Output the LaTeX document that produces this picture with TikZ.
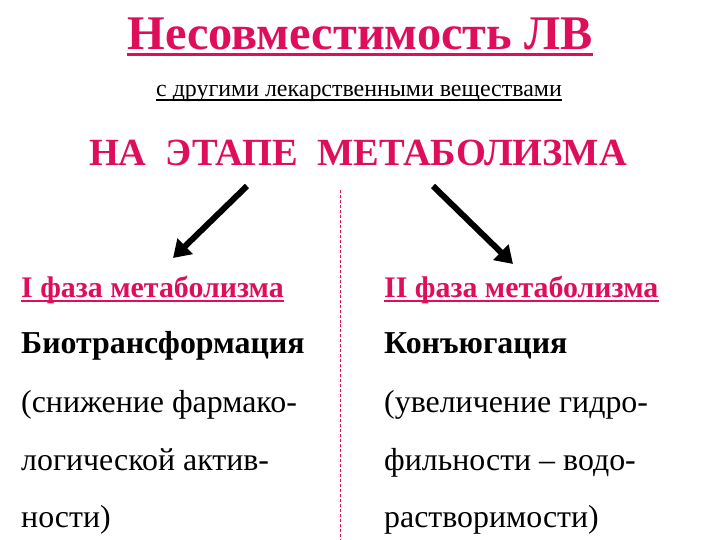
\documentclass[tikz,border=0pt]{standalone}
\usepackage{fontspec}
\setmainfont{Liberation Serif}
\usetikzlibrary{arrows.meta}
\definecolor{crimson}{RGB}{222,14,92}

\begin{document}
\begin{tikzpicture}[x=1bp,y=-1bp,>={Triangle[length=17bp,width=21bp]},
  txt/.style={inner sep=0pt,anchor=base west,font=\fontsize{32}{32}\selectfont},
  bold/.style={txt,font=\fontsize{32}{32}\selectfont\bfseries},
  head/.style={txt,text=crimson,font=\fontsize{30}{30}\selectfont\bfseries},
  ]
  \useasboundingbox (0,0) rectangle (720,540);

  \node[inner sep=0pt,anchor=base,text=crimson,font=\fontsize{48.5}{48.5}\selectfont\bfseries]
    (title) at (360,50) {Несовместимость ЛВ};
  \node[inner sep=0pt,anchor=base,font=\fontsize{24}{24}\selectfont]
    (sub) at (359,97) {с другими лекарственными веществами};
  \node[inner sep=0pt,anchor=base,text=crimson,font=\fontsize{38.6}{38.6}\selectfont\bfseries]
    (stage) at (358,166) {НА\ \ ЭТАПЕ\ \ МЕТАБОЛИЗМА};

  % underlines
  \draw[crimson,line width=3bp] ([yshift=-4.5bp]title.base west) -- ([yshift=-4.5bp]title.base east);
  \draw[line width=1.2bp] ([yshift=-3bp]sub.base west) -- ([yshift=-3bp]sub.base east);

  % arrows
  \coordinate (la) at (247,186);
  \coordinate (lb) at (173,258);
  \coordinate (ra) at (433,186);
  \coordinate (rb) at (513,264);
  \draw[line width=6bp,->] (la) -- (lb);
  \draw[line width=6bp,->] (ra) -- (rb);

  % divider
  \coordinate (dtop) at (340,190);
  \coordinate (dbot) at (340,540);
  \draw[crimson,densely dashed,line width=0.8bp] (dtop) -- (dbot);

  % columns
  \node[head] (l1) at (21,297) {I фаза метаболизма};
  \node[bold] (l2) at (21,353) {Биотрансформация};
  \node[txt] (l3) at (21,412) {(снижение фармако-};
  \node[txt] (l4) at (21,470) {логической актив-};
  \node[txt] (l5) at (21,527) {ности)};

  \node[head] (r1) at (384,297) {II фаза метаболизма};
  \node[bold] (r2) at (384,353) {Конъюгация};
  \node[txt] (r3) at (384,412) {(увеличение гидро-};
  \node[txt] (r4) at (384,470) {фильности – водо-};
  \node[txt] (r5) at (384,527) {растворимости)};

  \foreach \n in {l1,r1}
    \draw[crimson,line width=2bp] ([yshift=-4bp]\n.base west) -- ([yshift=-4bp]\n.base east);

\end{tikzpicture}
\end{document}
